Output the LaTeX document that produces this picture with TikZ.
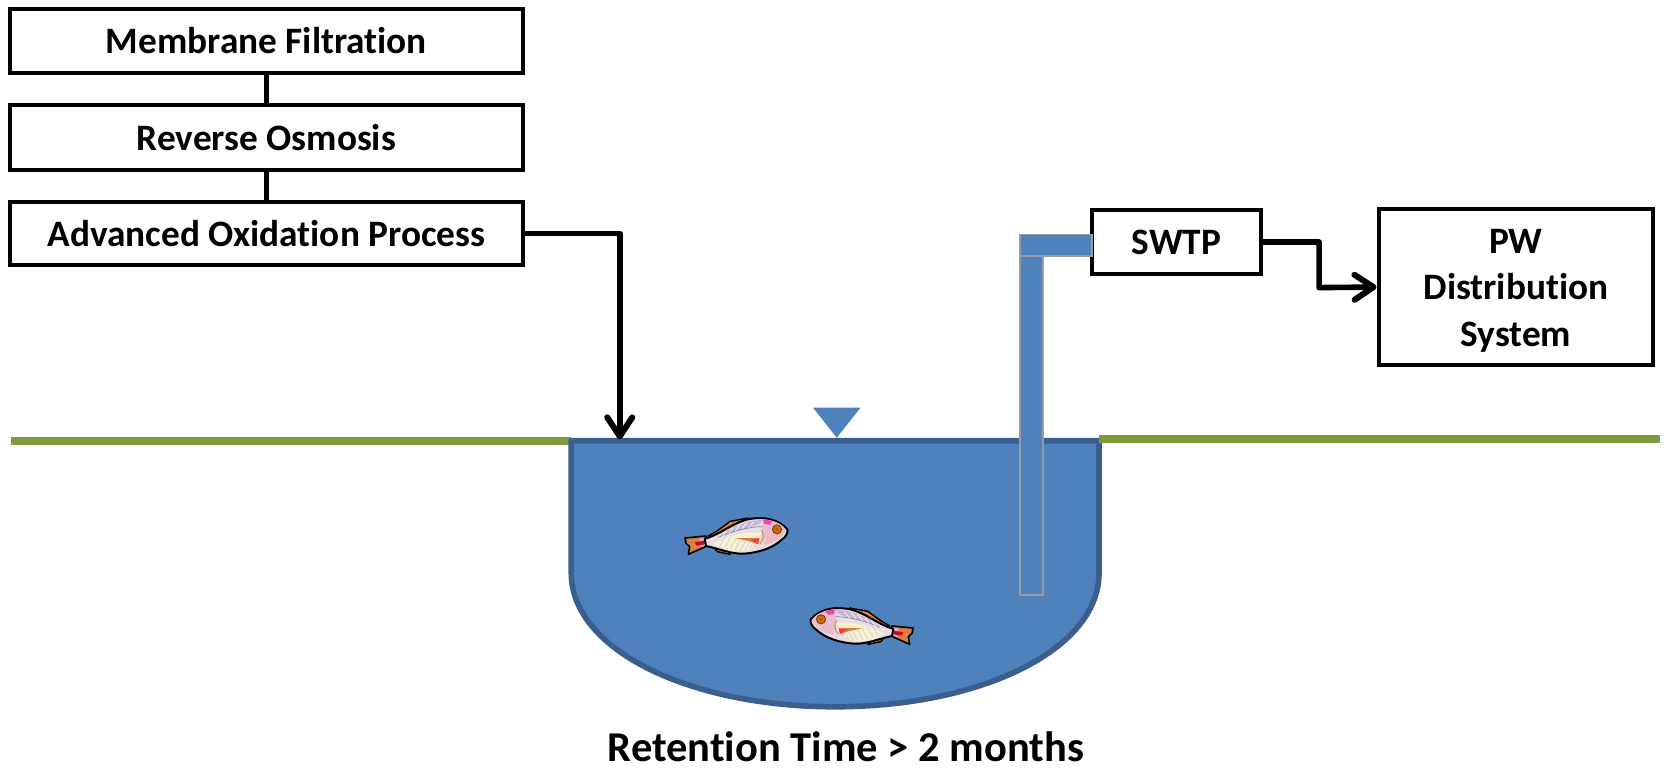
\documentclass[tikz,border=0pt]{standalone}
\usepackage{fontspec}
\setmainfont{Carlito}[Ligatures=CommonOff]
\usetikzlibrary{arrows.meta}
\definecolor{waterblue}{HTML}{4F81BD}
\definecolor{pondedge}{HTML}{3A5F8E}
\definecolor{grass}{HTML}{7F9A3E}
\definecolor{pipeedge}{HTML}{939CA8}
\definecolor{finorange}{HTML}{DB7F45}
\definecolor{fishbody}{HTML}{E6DEE4}
\definecolor{fishlav}{HTML}{C8B7DA}
\definecolor{fishcream}{HTML}{F6F1CF}
\definecolor{fishpink}{HTML}{E9BCCB}
\tikzset{
  procbox/.style={draw=black,line width=4pt,fill=white,font=\bfseries\fontsize{37.3}{46.5}\selectfont,align=center,inner sep=0pt},
  wire/.style={draw=black,line width=5.6pt},
  flow/.style={wire,line join=round,-{Straight Barb[length=19pt,width=25pt,line width=6pt,round]}},
  ground/.style={draw=grass,line width=8pt},
  pipe/.style={fill=waterblue,draw=pipeedge,line width=1.8pt},
  caption/.style={font=\bfseries\fontsize{42.5}{50}\selectfont,inner sep=0pt},
  pics/fish/.style={code={
    \begin{scope}[x=.3333pt,y=-.3333pt]
    % tail
    \fill[finorange,draw=black,line width=1.6pt,line join=round]
      (15,84) -- (78,78) -- (85,106) -- (25,133) -- (29,110) -- (18,100) -- cycle;
    \fill[fishlav] (58,86) -- (80,82) -- (84,104) -- (62,110) -- cycle;
    \fill[purple!70!red] (44,97) -- (72,92) -- (74,103) -- (50,107) -- cycle;
    % dorsal fin
    \fill[finorange,draw=black,line width=1.4pt,line join=round]
      (85,78) -- (112,62) -- (140,42) -- (150,34) -- (205,24) -- (175,55) -- (112,90) -- cycle;
    % ventral fin
    \fill[finorange,draw=black,line width=1.4pt,line join=round]
      (98,108) -- (112,125) -- (150,133) -- (140,112) -- cycle;
    % body
    \fill[fishbody,draw=black,line width=2pt,line join=round]
      (74,86) .. controls (120,75) and (165,32) .. (215,26)
      .. controls (255,20) and (295,28) .. (322,58)
      .. controls (325,72) and (315,82) .. (304,90)
      .. controls (280,112) and (240,128) .. (190,131)
      .. controls (150,132) and (115,115) .. (78,108) -- cycle;
    % colouring
    \fill[fishlav] (118,76) .. controls (160,48) and (200,30) .. (250,30)
      .. controls (240,50) and (180,60) .. (118,76) -- cycle;
    \fill[fishcream] (100,100) .. controls (150,75) and (205,62) .. (245,70)
      .. controls (248,95) and (215,122) .. (175,124)
      .. controls (145,124) and (120,112) .. (100,100) -- cycle;
    \fill[fishpink] (250,28) .. controls (285,30) and (310,45) .. (318,60)
      .. controls (310,80) and (285,100) .. (255,105)
      .. controls (245,85) and (245,50) .. (250,28) -- cycle;
    \fill[magenta!75!white] (250,28) -- (278,33) -- (270,44) -- (252,42) -- cycle;
    \draw[fishlav!70!black,line width=.7pt] (115,82) .. controls (160,62) and (205,50) .. (248,50);
    \draw[finorange,line width=.9pt] (245,60) .. controls (252,75) and (250,90) .. (240,102);
    \foreach \a/\b in {120/106,135/112,150/118,165/120,180/122,195/120,210/114,225/108}
      \draw[fishlav!80!white,line width=.6pt] (\a,\b) -- (\a+18,\b-32);
    \foreach \a/\b in {140/62,160/52,180/44,200/38,220/36}
      \draw[white,line width=.6pt] (\a,\b) -- (\a-14,\b+18);
    % pectoral fin
    \fill[finorange] (165,84) -- (238,85) -- (234,102) -- (205,93) -- cycle;
    \fill[red!80!white] (210,87) -- (238,85) -- (234,102) -- cycle;
    % eye
    \fill[black!60!orange] (291,58) circle (5pt);
    \fill[orange!85!black] (291,58) circle (4pt);
    \fill[black!35!orange] (291,58) circle (1.8pt);
    \end{scope}
  }}
}
\begin{document}
\begin{tikzpicture}[x=1.0612pt,y=-1.0612pt]
\useasboundingbox (0,0) rectangle (1568,722.77);

% process boxes
\node[procbox,minimum width=513.6pt,minimum height=64.7pt] (mf) at (251,38.5) {Membrane Filtration};
\node[procbox,minimum width=513.6pt,minimum height=64.7pt] (ro) at (251,129.5) {Reverse Osmosis};
\node[procbox,minimum width=513.6pt,minimum height=63.7pt] (aop) at (251,220) {Advanced Oxidation Process};
\node[procbox,minimum width=168.7pt,minimum height=64.7pt] (swtp) at (1108.5,228) {SWTP};
\node[procbox,minimum width=274.9pt,minimum height=156pt] (pw) at (1428.5,270.5) {\rule{0pt}{31pt}PW\\Distribution\\System};

\draw[wire] (mf.south) -- (ro.north);
\draw[wire] (ro.south) -- (aop.north);

% ground, left side lies under the pond
\draw[ground] (10,415.3) -- (538.3,415.3);

% pond
\fill[waterblue,draw=pondedge,line width=5.6pt,line join=round]
  (538.3,415.3) -- (1035.6,415.3) -- (1035.6,540)
  .. controls (1035.6,612) and (925,666) .. (787,666)
  .. controls (649,666) and (538.3,612) .. (538.3,540) -- cycle;

% ground, right side lies over the pond
\draw[ground] (1036,413.9) -- (1564,413.9);

% water level mark
\fill[waterblue] (766,384) -- (811,384) -- (788.5,412.5) -- cycle;

% intake pipe
\fill[pipe] (961,241) rectangle (983,561);
\fill[pipe] (961,221) rectangle (1029,241);

% fish
\pic at (680pt,-510pt) {fish};
\pic[xscale=-1] at (918pt,-600pt) {fish};

% connectors
\coordinate (inlet) at (584,414);
\draw[flow] (aop.east) -- (584,220) -- (inlet);
\draw[flow] (swtp.east) -- (1243,228) -- (1243,271) -- (pw.west);

\node[caption] (rt) at (797,704) {Retention Time > 2 months};
\end{tikzpicture}
\end{document}
